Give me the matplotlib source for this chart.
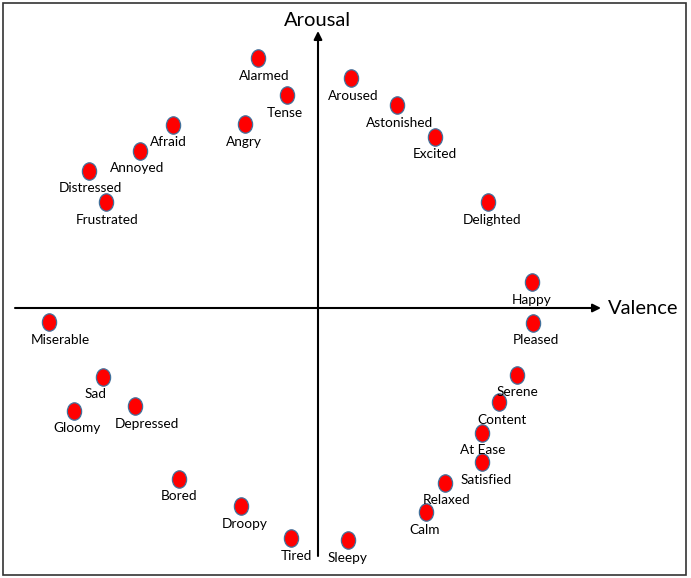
import matplotlib
matplotlib.use("Agg")
import matplotlib.pyplot as plt
from matplotlib.path import Path
from matplotlib.markers import MarkerStyle
from matplotlib.transforms import Affine2D
from matplotlib.patches import Rectangle

plt.rcParams['font.family'] = ['Lato', 'DejaVu Sans']

emotions = ["Alarmed", "Tense", "Aroused", "Astonished", "Excited", "Afraid", "Angry",
            "Annoyed", "Distressed", "Frustrated", "Delighted", "Happy", "Pleased",
            "Miserable", "Sad", "Gloomy", "Depressed", "Serene", "Content", "At Ease",
            "Satisfied", "Relaxed", "Calm", "Bored", "Droopy", "Tired", "Sleepy"]
valence = [-0.60, -0.31, 0.33, 0.79, 1.17, -1.45, -0.73,
           -1.78, -2.29, -2.12, 1.70, 2.14, 2.15,
           -2.69, -2.15, -2.44, -1.83, 1.99, 1.81, 1.64,
           1.64, 1.27, 1.08, -1.39, -0.77, -0.27, 0.30]
arousal = [2.50, 2.13, 2.30, 2.03, 1.71, 1.83, 1.84,
           1.57, 1.37, 1.06, 1.06, 0.26, -0.15,
           -0.14, -0.69, -1.03, -0.98, -0.67, -0.94, -1.25,
           -1.54, -1.75, -2.04, -1.71, -1.98, -2.30, -2.32]
label_dx = [0.06, -0.02, 0.02, 0.03, 0.00, -0.05, -0.01,
            -0.03, 0.01, 0.01, 0.04, 0.00, 0.03,
            0.11, -0.07, 0.03, 0.12, 0.00, 0.03, 0.01,
            0.04, 0.02, -0.01, 0.00, 0.04, 0.05, -0.01]

fig = plt.figure(figsize=(6.91, 5.78), dpi=100)
ax = fig.add_axes([0, 0, 1, 1])
ax.set_xlim(-3.18, 3.73)
ax.set_ylim(-2.70, 3.08)
ax.axis('off')

# frame
fig.patches.append(Rectangle((3/691, 3/578), 683/691, 572/578, transform=fig.transFigure,
                             fill=False, edgecolor='#333333', linewidth=1.2))

# axes arrows
ax.annotate('', xy=(2.83, 0), xytext=(-3.03, 0),
            arrowprops=dict(arrowstyle='-|>', color='black', lw=1.5, mutation_scale=12, shrinkA=0, shrinkB=0))
ax.annotate('', xy=(0, 2.77), xytext=(0, -2.48),
            arrowprops=dict(arrowstyle='-|>', color='black', lw=1.5, mutation_scale=12, shrinkA=0, shrinkB=0))
ax.text(0, 2.88, 'Arousal', ha='center', va='center', fontsize=14.5)
ax.text(2.90, 0.0, 'Valence', ha='left', va='center', fontsize=14.5)

ell = Path.unit_circle().transformed(Affine2D().scale(0.82, 1.0))
marker = MarkerStyle(ell)
ax.plot(valence, arousal, linestyle='none', marker=marker, markersize=12.5,
        markerfacecolor='#FF0000', markeredgecolor='#41719C', markeredgewidth=0.9, zorder=3)

for name, v, a, dx in zip(emotions, valence, arousal, label_dx):
    ax.text(v + dx, a - 0.115, name, ha='center', va='top', fontsize=9.8, zorder=4)

fig.savefig('out.png', dpi=100)
